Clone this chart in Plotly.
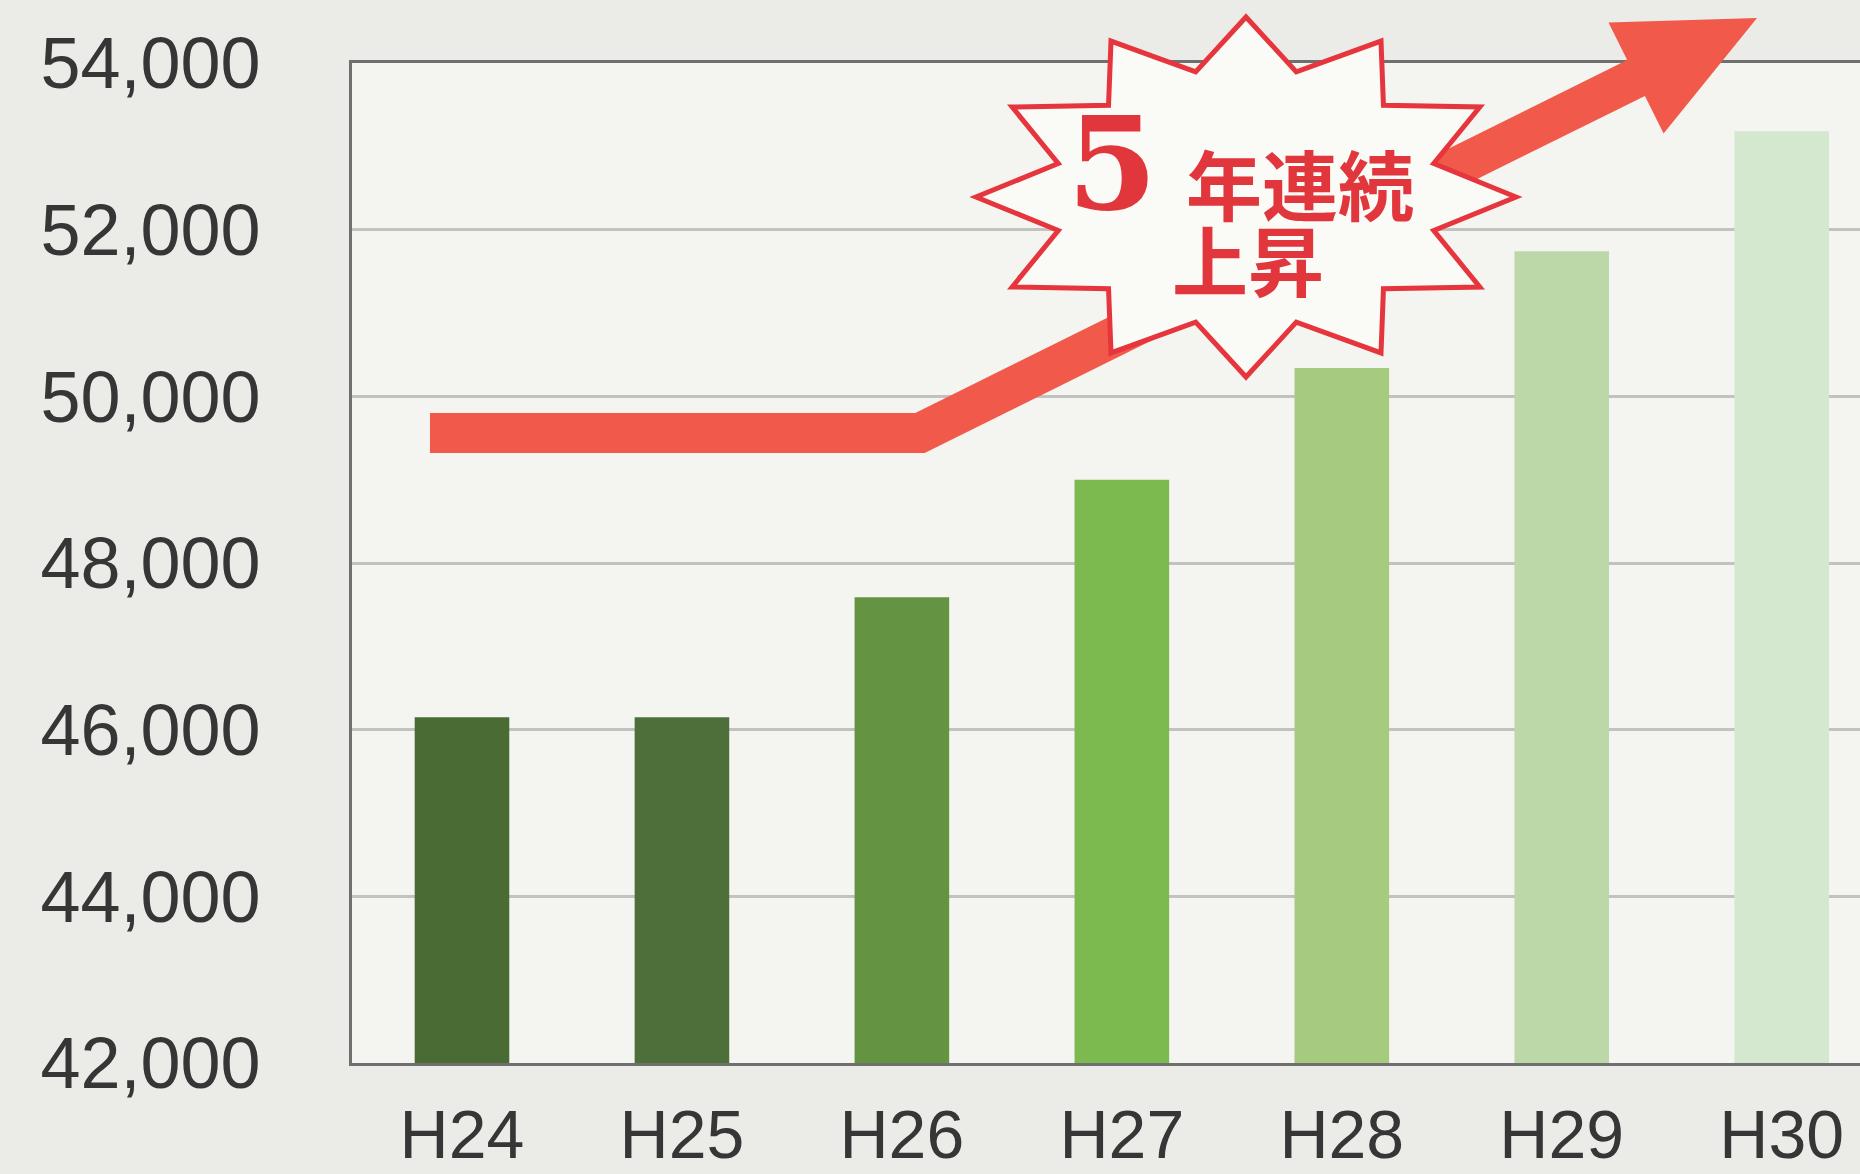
import math
import plotly.graph_objects as go

# ---- data ----
years = ["H24", "H25", "H26", "H27", "H28", "H29", "H30"]
values = [46150, 46150, 47590, 49000, 50340, 51740, 53180]
bar_colors = ["#4a6c34", "#4e6f3a", "#649441", "#7cba50", "#a6ca7e", "#bdd8a8", "#d4e7cf"]
y_ticks = [42000, 44000, 46000, 48000, 50000, 52000, 54000]
y_range = [42000, 54000]
x_range = [-0.5, 6.356]

# ---- canvas / layout geometry ----
W, H = 1860, 1174
ML, MR, MT, MB = 352, 0, 63, 111
PW, PH = W - ML - MR, H - MT - MB

RED_ARROW = "#f15a4b"
RED_LINE = "#e6353c"
RED_TEXT = "#e2363d"


def to_paper(px, py):
    """Convert canvas pixels to paper coordinates of the plot area."""
    return (px - ML) / PW, (H - MB - py) / PH


def path_from(points):
    pts = [to_paper(x, y) for x, y in points]
    return "M " + " L ".join(f"{x:.5f},{y:.5f}" for x, y in pts) + " Z"


def line_intersect(p, d, q, e):
    # p + s*d == q + t*e
    den = d[0] * e[1] - d[1] * e[0]
    s = ((q[0] - p[0]) * e[1] - (q[1] - p[1]) * e[0]) / den
    return (p[0] + s * d[0], p[1] + s * d[1])


# ---- rising arrow (pixel geometry) ----
half = 20
start = (430, 433)
kink = (920, 433)
tip = (1757, 18)
head_len, head_half = 135, 62
dx, dy = tip[0] - kink[0], tip[1] - kink[1]
ln = math.hypot(dx, dy)
u = (dx / ln, dy / ln)
n = (u[1], -u[0])  # normal pointing up-left
if n[1] > 0:
    n = (-n[0], -n[1])
base = (tip[0] - head_len * u[0], tip[1] - head_len * u[1])

top_kink = line_intersect((start[0], start[1] - half), (1, 0),
                          (kink[0] + half * n[0], kink[1] + half * n[1]), u)
bot_kink = line_intersect((start[0], start[1] + half), (1, 0),
                          (kink[0] - half * n[0], kink[1] - half * n[1]), u)
arrow_pts = [
    (start[0], start[1] - half),
    top_kink,
    (base[0] + half * n[0], base[1] + half * n[1]),
    (base[0] + head_half * n[0], base[1] + head_half * n[1]),
    tip,
    (base[0] - head_half * n[0], base[1] - head_half * n[1]),
    (base[0] - half * n[0], base[1] - half * n[1]),
    bot_kink,
    (start[0], start[1] + half),
]

# ---- starburst badge ----
cx, cy, rx, ry, inner = 1246, 197, 270, 180, 0.72
star_pts = []
for k in range(24):
    ang = math.radians(k * 15)
    r = 1.0 if k % 2 == 0 else inner
    star_pts.append((cx + rx * r * math.cos(ang), cy - ry * r * math.sin(ang)))

fig = go.Figure(
    go.Bar(
        x=years,
        y=values,
        marker=dict(color=bar_colors, line=dict(width=0)),
        width=0.43,
        hoverinfo="x+y",
    )
)

fig.add_shape(type="path", path=path_from(arrow_pts), xref="paper", yref="paper",
              fillcolor=RED_ARROW, line=dict(width=0), layer="above")
fig.add_shape(type="path", path=path_from(star_pts), xref="paper", yref="paper",
              fillcolor="#fafaf6", line=dict(color=RED_LINE, width=5), layer="above")

# badge caption: "5年連続" / "上昇"
badge_font = dict(family="Noto Sans CJK JP", size=76, color=RED_TEXT, weight="bold")
for txt, (px, py), font in [
    ("5", (1112, 164), dict(family="DejaVu Serif", size=130, color=RED_TEXT, weight="bold")),
    ("年連続", (1300, 182), badge_font),
    ("上昇", (1248, 258), badge_font),
]:
    ax, ay = to_paper(px, py)
    fig.add_annotation(x=ax, y=ay, xref="paper", yref="paper", showarrow=False,
                       text=txt, font=font, xanchor="center", yanchor="middle",
                       borderpad=0)

tick_font = dict(family="Liberation Sans, Arial, sans-serif", size=72, color="#363636")

fig.update_layout(
    width=W, height=H,
    margin=dict(l=ML, r=MR, t=MT, b=MB, pad=0),
    paper_bgcolor="#ebebe8",
    plot_bgcolor="#f4f4f0",
    showlegend=False,
    xaxis=dict(
        range=x_range, type="category",
        tickfont=dict(family="Liberation Sans, Arial, sans-serif", size=68, color="#363636"),
        showline=True, linecolor="#6f6f6f", linewidth=3, mirror=True,
        ticks="outside", ticklen=10, tickcolor="rgba(0,0,0,0)",
        showgrid=False, zeroline=False, automargin=False,
    ),
    yaxis=dict(
        range=y_range, tickvals=y_ticks, tickformat=",d", tickfont=tick_font,
        showline=True, linecolor="#6f6f6f", linewidth=3,
        ticks="outside", ticklen=74, tickcolor="rgba(0,0,0,0)",
        showgrid=True, gridcolor="#c2c2c0", gridwidth=3,
        zeroline=False, automargin=False,
    ),
)

fig.write_html("out.html")
